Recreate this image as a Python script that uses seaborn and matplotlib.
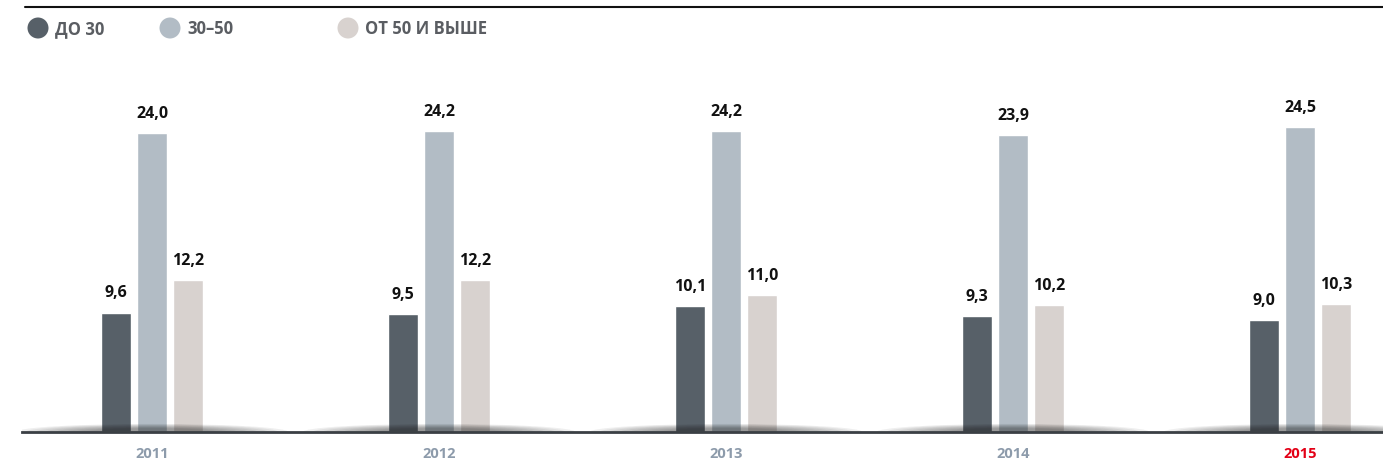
import pandas as pd
import matplotlib.pyplot as plt
import seaborn as sns
from matplotlib.patches import Ellipse

# --- data ---
years = ['2011', '2012', '2013', '2014', '2015']
groups = ['ДО 30', '30–50', 'ОТ 50 И ВЫШЕ']
under_30 = [9.6, 9.5, 10.1, 9.3, 9.0]
from_30_to_50 = [24.0, 24.2, 24.2, 23.9, 24.5]
over_50 = [12.2, 12.2, 11.0, 10.2, 10.3]

colors = ['#576068', '#b2bcc5', '#d8d2cf']

df = pd.DataFrame({
    'year': years * 3,
    'group': [groups[0]] * 5 + [groups[1]] * 5 + [groups[2]] * 5,
    'value': under_30 + from_30_to_50 + over_50,
})

sns.set_style("white")
plt.rcParams['font.family'] = ['Open Sans', 'DejaVu Sans']

fig = plt.figure(figsize=(13.83, 4.66), dpi=100)
ax = fig.add_axes([22 / 1383, 34 / 466, 1361 / 1383, 372 / 466])

sns.barplot(
    data=df, x='year', y='value', hue='group',
    palette=colors, width=0.375, gap=0.17,
    saturation=1, legend=False, ax=ax, zorder=2,
)

# value labels
for cont in ax.containers:
    ax.bar_label(cont, labels=[f"{v:.1f}".replace('.', ',') for v in cont.datavalues],
                 padding=8, fontsize=11.5, fontweight='bold', color='#111111')

# soft shadows at the baseline under each group
for i in range(len(years)):
    for k in range(8):
        w = 0.95 - k * 0.07
        h = 1.3 - k * 0.1
        ax.add_patch(Ellipse((i, 0), w, h, facecolor='#222222', edgecolor='none',
                             alpha=0.07, zorder=3))

ax.set_xlim(-0.453, 4.289)
ax.set_ylim(0, 29.9)
ax.set_xlabel('')
ax.set_ylabel('')
ax.set_yticks([])
sns.despine(ax=ax, left=True, top=True, right=True)
ax.spines['bottom'].set_color('#3a3f44')
ax.spines['bottom'].set_linewidth(2)
ax.spines['bottom'].set_zorder(4)
ax.tick_params(axis='x', length=0, pad=11)
for lab in ax.get_xticklabels():
    lab.set_fontsize(10.5)
    lab.set_fontweight('bold')
    lab.set_color('#e30016' if lab.get_text() == '2015' else '#8d9bab')

# top rule
fig.add_artist(plt.Line2D([25 / 1383, 1.0], [1 - 7 / 466, 1 - 7 / 466],
                          color='#111111', linewidth=1.5))

# legend
legend_x = [38, 170, 348]
for x, name, c in zip(legend_x, groups, colors):
    fig.add_artist(Ellipse((x / 1383, 1 - 28 / 466), 21 / 1383, 21 / 466,
                           transform=fig.transFigure, facecolor=c, edgecolor='none'))
    fig.text((x + 17) / 1383, 1 - 29 / 466, name, fontsize=12, fontweight='bold',
             color='#5a5d62', va='center', ha='left')

plt.savefig('out.png', dpi=100)
plt.close()
